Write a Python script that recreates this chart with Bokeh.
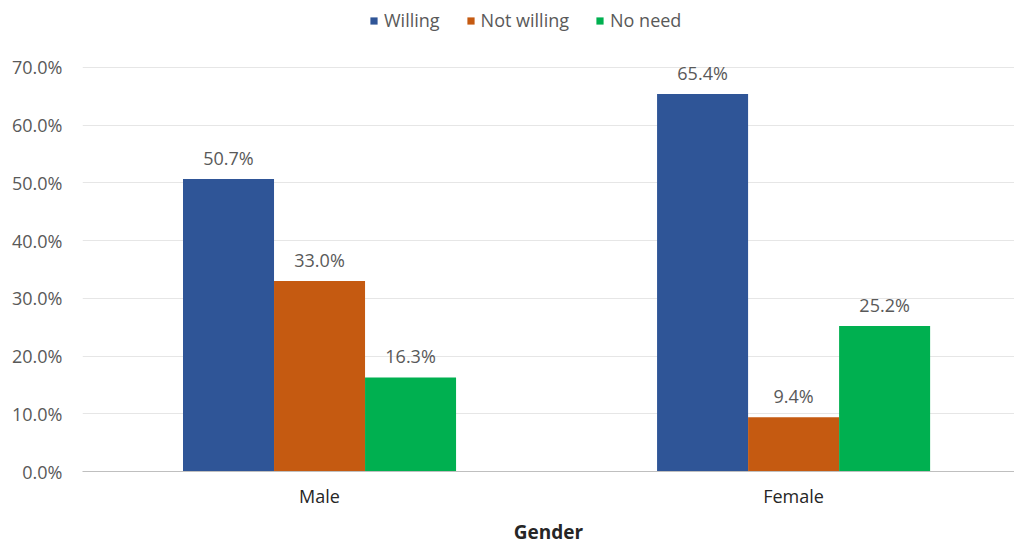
from bokeh.plotting import figure
from bokeh.models import (ColumnDataSource, Range1d, FixedTicker, PrintfTickFormatter,
                          Legend, LegendItem)
from bokeh.core.properties import value
from bokeh.embed import file_html
from bokeh.resources import INLINE

# Survey responses by gender (percent)
genders = ["Male", "Female"]
responses = ["Willing", "Not willing", "No need"]
willing = [50.7, 65.4]
not_willing = [33.0, 9.4]
no_need = [16.3, 25.2]
y_ticks = [0, 10, 20, 30, 40, 50, 60, 70]

colors = ["#2F5597", "#C55A11", "#00B050"]
series = [willing, not_willing, no_need]

FONT = "Open Sans"
GREY = "#595959"
SIZE = "18px"

# headroom above the 70% line leaves space for the legend inside the frame
p = figure(width=1014, height=547, output_backend="svg", toolbar_location=None,
           x_range=Range1d(0, 1.966), y_range=Range1d(0, 80.74),
           min_border_left=82, min_border_right=0, min_border_top=5,
           min_border_bottom=76)
p.outline_line_color = None
p.background_fill_color = "white"
p.border_fill_color = "white"

bar_w = 0.192
centers = [i + 0.5 for i in range(len(genders))]
offsets = [-bar_w, 0.0, bar_w]

items = []
for name, vals, col, off in zip(responses, series, colors, offsets):
    src = ColumnDataSource(dict(
        x=[c + off for c in centers],
        top=vals,
        label=[f"{v:.1f}%" for v in vals],
    ))
    r = p.vbar(x="x", top="top", width=bar_w, source=src, fill_color=col,
               line_color=None)
    p.text(x="x", y="top", text="label", source=src, text_align="center",
           text_baseline="bottom", y_offset=-9, text_font=value(FONT),
           text_font_size=SIZE, text_color=GREY)
    items.append(LegendItem(label=name, renderers=[r]))

# horizontal legend across the top, placed in screen units from the frame's bottom-left
legend = Legend(items=items, orientation="horizontal", location=(287, 439),
                label_text_font=FONT, label_text_font_size=SIZE,
                label_text_color=GREY, glyph_width=9, glyph_height=9,
                spacing=26, label_standoff=6, border_line_color=None,
                background_fill_alpha=0, padding=0, margin=0)
p.add_layout(legend)

# x axis
p.xaxis.ticker = FixedTicker(ticks=centers)
p.xaxis.major_label_overrides = {c: g for c, g in zip(centers, genders)}
p.xaxis.axis_label = "Gender"
p.xaxis.axis_label_text_font = FONT
p.xaxis.axis_label_text_font_style = "bold"
p.xaxis.axis_label_text_font_size = "19px"
p.xaxis.axis_label_text_color = "#262626"
p.xaxis.axis_label_standoff = 8
p.xaxis.major_label_text_font = FONT
p.xaxis.major_label_text_font_size = SIZE
p.xaxis.major_label_text_color = "#262626"
p.xaxis.major_label_standoff = 6
p.xaxis.axis_line_color = "#BFBFBF"
p.xaxis.major_tick_line_color = None
p.xaxis.minor_tick_line_color = None

# y axis
p.yaxis.ticker = FixedTicker(ticks=y_ticks)
p.yaxis.formatter = PrintfTickFormatter(format="%.1f%%")
p.yaxis.major_label_text_font = FONT
p.yaxis.major_label_text_font_size = SIZE
p.yaxis.major_label_text_color = GREY
p.yaxis.major_label_standoff = 14
p.yaxis.axis_line_color = None
p.yaxis.major_tick_line_color = None
p.yaxis.minor_tick_line_color = None

p.xgrid.grid_line_color = None
p.ygrid.grid_line_color = "#E6E6E6"
p.ygrid.ticker = FixedTicker(ticks=y_ticks)

open("out.html", "w").write(file_html(p, INLINE))
